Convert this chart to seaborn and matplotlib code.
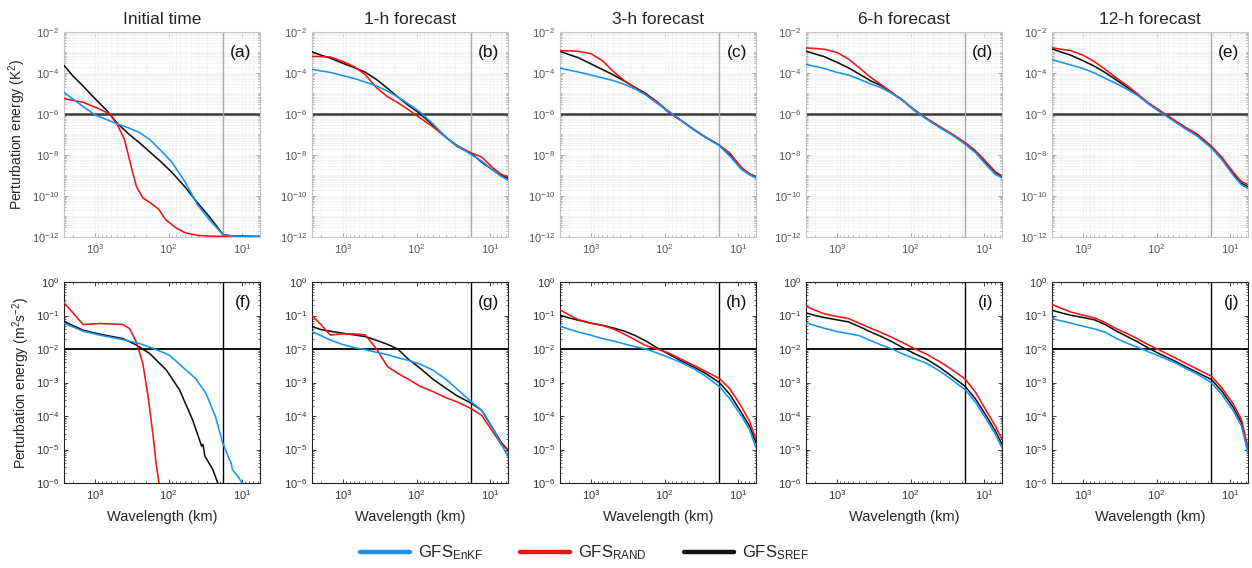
import numpy as np
import pandas as pd
import matplotlib
matplotlib.use("Agg")
import matplotlib.pyplot as plt
import matplotlib.ticker as mticker
from matplotlib.lines import Line2D
import seaborn as sns

# ---------------- data (log10 of perturbation energy) -------------
GRID_KM = [2650, 2000, 1500, 1000, 700, 500, 350, 250, 180, 130, 90, 60, 40, 28, 18, 13, 9, 7, 5.7]

TITLES = ["Initial time", "1-h forecast", "3-h forecast", "6-h forecast", "12-h forecast"]
PANEL_TAGS = ["(a)", "(b)", "(c)", "(d)", "(e)", "(f)", "(g)", "(h)", "(i)", "(j)"]
SERIES = ["GFS$_{\\mathregular{EnKF}}$", "GFS$_{\\mathregular{RAND}}$", "GFS$_{\\mathregular{SREF}}$"]

# top row: temperature (K^2)
A_ENKF = [-4.94, -5.27, -5.6, -6.05, -6.27, -6.48, -6.68, -6.9, -7.25, -7.75, -8.35, -9.3, -10.45, -11.15, -11.9, -11.96, -11.97, -11.98, -11.98]
A_RAND_KM = [2650, 1450, 870, 630, 490, 400, 324, 275, 224, 166, 135, 110, 79, 59, 39, 21, 5.7]
A_RAND = [-5.25, -5.43, -5.76, -6.0, -6.57, -7.23, -8.54, -9.52, -10.09, -10.4, -10.66, -11.15, -11.56, -11.8, -11.93, -11.97, -11.98]
A_SREF = [-3.63, -4.15, -4.59, -5.26, -5.81, -6.45, -6.97, -7.4, -7.85, -8.3, -8.85, -9.55, -10.35, -11.0, -11.9, -11.95, -11.96, -11.97, -11.97]

B_ENKF = [-3.82, -3.9, -3.97, -4.13, -4.27, -4.44, -4.63, -4.88, -5.17, -5.5, -5.9, -6.48, -7.12, -7.55, -7.98, -8.3, -8.75, -9.05, -9.23]
B_RAND = [-3.19, -3.2, -3.22, -3.44, -3.7, -4.08, -4.72, -5.15, -5.45, -5.78, -6.19, -6.62, -7.13, -7.54, -7.9, -8.1, -8.65, -8.95, -9.06]
B_SREF = [-2.97, -3.13, -3.27, -3.53, -3.74, -3.96, -4.32, -4.74, -5.17, -5.57, -5.98, -6.55, -7.13, -7.58, -7.93, -8.35, -8.75, -8.98, -9.14]

C_ENKF = [-3.76, -3.86, -3.95, -4.1, -4.24, -4.37, -4.56, -4.78, -5.08, -5.45, -5.85, -6.3, -6.76, -7.13, -7.54, -8.05, -8.7, -8.97, -9.12]
C_RAND = [-2.91, -2.92, -2.94, -3.06, -3.4, -3.92, -4.38, -4.74, -5.05, -5.38, -5.9, -6.32, -6.77, -7.13, -7.52, -7.9, -8.6, -8.92, -9.04]
C_SREF = [-2.94, -3.1, -3.25, -3.56, -3.83, -4.09, -4.4, -4.71, -5.0, -5.38, -5.85, -6.3, -6.75, -7.12, -7.52, -8.0, -8.67, -8.93, -9.07]

D_ENKF = [-3.58, -3.68, -3.78, -3.97, -4.1, -4.3, -4.53, -4.72, -5.0, -5.32, -5.82, -6.26, -6.67, -7.0, -7.48, -7.9, -8.55, -8.95, -9.12]
D_RAND = [-2.78, -2.8, -2.84, -3.0, -3.32, -3.74, -4.21, -4.57, -4.95, -5.3, -5.78, -6.22, -6.62, -6.95, -7.4, -7.8, -8.4, -8.82, -9.02]
D_SREF = [-2.93, -3.07, -3.2, -3.48, -3.75, -4.05, -4.38, -4.62, -4.98, -5.32, -5.8, -6.24, -6.64, -6.96, -7.43, -7.84, -8.45, -8.87, -9.05]

E_ENKF = [-3.35, -3.47, -3.6, -3.78, -4.0, -4.26, -4.52, -4.8, -5.1, -5.5, -5.9, -6.32, -6.74, -7.08, -7.66, -8.22, -9.0, -9.45, -9.64]
E_RAND = [-2.77, -2.84, -2.9, -3.13, -3.45, -3.82, -4.25, -4.62, -5.03, -5.45, -5.83, -6.25, -6.66, -6.98, -7.56, -8.1, -8.85, -9.3, -9.45]
E_SREF = [-2.82, -2.98, -3.12, -3.4, -3.67, -3.98, -4.35, -4.71, -5.08, -5.48, -5.86, -6.28, -6.69, -7.01, -7.6, -8.15, -8.92, -9.38, -9.55]

# bottom row: wind (m^2 s^-2)
F_ENKF_KM = [2650, 1450, 850, 417, 245, 162, 98, 65, 43, 31, 23, 18.6, 15.1, 14.1, 13.5, 11, 10, 9.3]
F_ENKF = [-1.23, -1.47, -1.59, -1.72, -1.84, -1.98, -2.18, -2.53, -2.88, -3.32, -4.02, -4.76, -5.26, -5.4, -5.6, -5.85, -6.0, -6.1]
F_RAND_KM = [2650, 1450, 850, 417, 340, 275, 224, 190, 162, 148, 135, 126]
F_RAND = [-0.62, -1.27, -1.24, -1.27, -1.39, -1.79, -2.43, -3.42, -4.61, -5.41, -6.0, -6.5]
F_SREF_KM = [2650, 1450, 850, 417, 275, 182, 107, 71, 47, 38, 35.5, 34, 32, 25, 21.4, 20]
F_SREF = [-1.18, -1.44, -1.56, -1.69, -1.88, -2.13, -2.63, -3.22, -4.12, -4.71, -4.9, -4.85, -5.2, -5.6, -6.0, -6.2]

G_ENKF = [-1.48, -1.6, -1.73, -1.87, -1.96, -2.02, -2.1, -2.17, -2.26, -2.34, -2.45, -2.63, -2.9, -3.2, -3.58, -3.83, -4.4, -4.85, -5.2]
G_RAND = [-1.0, -1.27, -1.58, -1.55, -1.55, -1.58, -2.0, -2.52, -2.73, -2.9, -3.11, -3.27, -3.45, -3.58, -3.78, -3.98, -4.5, -4.85, -5.0]
G_SREF = [-1.33, -1.42, -1.47, -1.53, -1.58, -1.63, -1.74, -1.86, -2.0, -2.3, -2.57, -2.9, -3.17, -3.4, -3.62, -3.83, -4.4, -4.8, -5.02]

H_ENKF = [-1.32, -1.41, -1.49, -1.59, -1.69, -1.76, -1.85, -1.93, -2.0, -2.11, -2.24, -2.4, -2.59, -2.8, -3.12, -3.48, -4.0, -4.4, -4.95]
H_RAND = [-0.83, -0.98, -1.12, -1.23, -1.3, -1.4, -1.56, -1.73, -1.9, -1.99, -2.11, -2.3, -2.49, -2.66, -2.88, -3.18, -3.72, -4.15, -4.7]
H_SREF = [-0.99, -1.07, -1.14, -1.23, -1.29, -1.37, -1.47, -1.6, -1.76, -1.95, -2.14, -2.35, -2.54, -2.72, -3.0, -3.35, -3.9, -4.3, -4.8]

I_ENKF = [-1.22, -1.3, -1.38, -1.48, -1.54, -1.6, -1.75, -1.88, -2.0, -2.14, -2.28, -2.43, -2.66, -2.9, -3.22, -3.6, -4.15, -4.55, -4.95]
I_RAND = [-0.72, -0.84, -0.95, -1.03, -1.09, -1.23, -1.38, -1.51, -1.65, -1.8, -1.98, -2.16, -2.38, -2.6, -2.9, -3.3, -3.9, -4.3, -4.7]
I_SREF = [-0.92, -1.0, -1.06, -1.13, -1.19, -1.33, -1.49, -1.63, -1.78, -1.95, -2.13, -2.31, -2.55, -2.8, -3.12, -3.5, -4.05, -4.45, -4.85]

J_ENKF = [-1.09, -1.16, -1.22, -1.32, -1.4, -1.5, -1.69, -1.83, -1.95, -2.08, -2.22, -2.38, -2.58, -2.75, -3.0, -3.35, -3.85, -4.3, -5.1]
J_RAND = [-0.67, -0.78, -0.89, -0.99, -1.07, -1.21, -1.4, -1.54, -1.7, -1.87, -2.04, -2.23, -2.43, -2.6, -2.81, -3.15, -3.65, -4.1, -4.95]
J_SREF = [-0.84, -0.92, -0.99, -1.06, -1.13, -1.27, -1.47, -1.63, -1.79, -1.97, -2.15, -2.33, -2.53, -2.7, -2.91, -3.25, -3.75, -4.2, -5.05]

THRESH_TOP = 1e-6
THRESH_BOT = 1e-2
CUTOFF_KM = 18

# --------------------------------- style ---------------------------------
sns.set_style("ticks")
plt.rcParams["font.family"] = ["Liberation Sans", "DejaVu Sans"]
plt.rcParams["mathtext.fontset"] = "custom"
plt.rcParams["mathtext.rm"] = "Liberation Sans"
plt.rcParams["mathtext.it"] = "Liberation Sans:italic"
plt.rcParams["mathtext.bf"] = "Liberation Sans:bold"
plt.rcParams["axes.unicode_minus"] = False

C_ENKF_COL = "#1594f5"
C_RAND_COL = "#f01414"
C_SREF_COL = "#111111"

top_panels = [
    [(GRID_KM, A_ENKF), (A_RAND_KM, A_RAND), (GRID_KM, A_SREF)],
    [(GRID_KM, B_ENKF), (GRID_KM, B_RAND), (GRID_KM, B_SREF)],
    [(GRID_KM, C_ENKF), (GRID_KM, C_RAND), (GRID_KM, C_SREF)],
    [(GRID_KM, D_ENKF), (GRID_KM, D_RAND), (GRID_KM, D_SREF)],
    [(GRID_KM, E_ENKF), (GRID_KM, E_RAND), (GRID_KM, E_SREF)],
]
bot_panels = [
    [(F_ENKF_KM, F_ENKF), (F_RAND_KM, F_RAND), (F_SREF_KM, F_SREF)],
    [(GRID_KM, G_ENKF), (GRID_KM, G_RAND), (GRID_KM, G_SREF)],
    [(GRID_KM, H_ENKF), (GRID_KM, H_RAND), (GRID_KM, H_SREF)],
    [(GRID_KM, I_ENKF), (GRID_KM, I_RAND), (GRID_KM, I_SREF)],
    [(GRID_KM, J_ENKF), (GRID_KM, J_RAND), (GRID_KM, J_SREF)],
]
colors = [C_ENKF_COL, C_RAND_COL, C_SREF_COL]
draw_order = [2, 1, 0]

W, H = 1252, 568
fig = plt.figure(figsize=(W / 100, H / 100), dpi=100)
lefts = [64, 312, 560, 806, 1052]
aw = 196


def style_axis(ax, top):
    ax.set_xscale("log")
    ax.set_yscale("log")
    ax.set_xlim(2650, 5.7)
    ax.xaxis.set_major_locator(mticker.FixedLocator([1000, 100, 10]))
    ax.xaxis.set_major_formatter(mticker.LogFormatterSciNotation())
    ax.xaxis.set_minor_locator(mticker.LogLocator(base=10, subs=np.arange(2, 10), numticks=50))
    ax.xaxis.set_minor_formatter(mticker.NullFormatter())
    if top:
        ax.set_ylim(1e-12, 1e-2)
        ax.yaxis.set_major_locator(mticker.FixedLocator([1e-12, 1e-10, 1e-8, 1e-6, 1e-4, 1e-2]))
        ax.yaxis.set_minor_locator(mticker.LogLocator(base=10, subs=np.arange(1, 10), numticks=50))
        sc, lc, tc = "#c4c4c4", "#555555", "#9a9a9a"
        ax.grid(True, which="both", color="#f1f1f1", lw=0.5)
    else:
        ax.set_ylim(1e-6, 1)
        ax.yaxis.set_major_locator(mticker.FixedLocator([1e-6, 1e-5, 1e-4, 1e-3, 1e-2, 1e-1, 1]))
        ax.yaxis.set_minor_locator(mticker.LogLocator(base=10, subs=np.arange(2, 10), numticks=50))
        sc, lc, tc = "#222222", "#333333", "#222222"
    ax.yaxis.set_major_formatter(mticker.LogFormatterSciNotation())
    ax.yaxis.set_minor_formatter(mticker.NullFormatter())
    for s in ax.spines.values():
        s.set_color(sc)
        s.set_linewidth(0.8)
    ax.tick_params(which="both", direction="in", top=True, right=True, colors=tc,
                   labelcolor=lc, labelsize=8)
    ax.tick_params(which="major", length=3, width=0.6)
    ax.tick_params(which="minor", length=1.6, width=0.5)
    ax.set_axisbelow(True)


for row in range(2):
    top = row == 0
    panels = top_panels if top else bot_panels
    for col in range(5):
        if top:
            rect = [lefts[col] / W, 1 - 237 / H, aw / W, 205 / H]
        else:
            rect = [lefts[col] / W, 1 - 483 / H, aw / W, 201 / H]
        ax = fig.add_axes(rect)
        style_axis(ax, top)
        if top:
            ax.axhline(THRESH_TOP, color="#3a3a3a", lw=1.8, zorder=1.5)
            ax.axvline(CUTOFF_KM, color="#a8a8a8", lw=1.0, zorder=1.5)
        else:
            ax.axhline(THRESH_BOT, color="#000000", lw=1.3, zorder=1.5)
            ax.axvline(CUTOFF_KM, color="#000000", lw=1.0, zorder=1.5)
        for k in draw_order:
            km, loge = panels[col][k]
            df = pd.DataFrame({"km": km, "energy": 10.0 ** np.asarray(loge)})
            sns.lineplot(data=df, x="km", y="energy", ax=ax, color=colors[k], lw=1.15,
                         estimator=None, sort=False, legend=False, zorder=3)
        ax.set_xlim(2650, 5.7)
        ax.set_xlabel("")
        ax.set_ylabel("")
        tag = PANEL_TAGS[col + 5 * row]
        ax.text(0.955, 0.9, tag, transform=ax.transAxes, ha="right", va="center",
                fontsize=12.5, color="#111111")
        if top:
            ax.set_title(TITLES[col], fontsize=12.5, pad=6)
        else:
            ax.set_xlabel("Wavelength (km)", fontsize=10.5, labelpad=6)
        if col == 0:
            if top:
                ax.set_ylabel("Perturbation energy (K$^{\\mathregular{2}}$)", fontsize=10, labelpad=3)
            else:
                ax.set_ylabel("Perturbation energy (m$^{\\mathregular{2}}$s$^{\\mathregular{-2}}$)",
                              fontsize=10, labelpad=3)

handles = [Line2D([0], [0], color=c, lw=3.2) for c in colors]
fig.legend(handles, SERIES, loc="lower center", bbox_to_anchor=(0.467, -0.016), ncol=3,
           frameon=False, fontsize=12, handlelength=3.0, handletextpad=0.5, columnspacing=2.2)

fig.savefig("out.png", dpi=100)
